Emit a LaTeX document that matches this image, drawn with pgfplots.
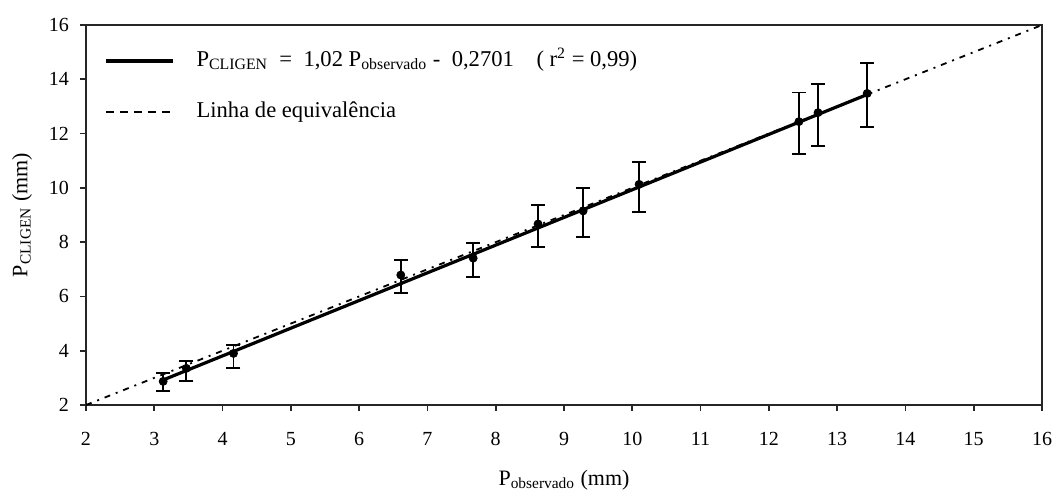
\documentclass[border=0pt]{standalone}
\usepackage{pgfplots}
\pgfplotsset{compat=1.18}
\usepackage{pgfplotstable}
\usepackage{fontspec}
\setmainfont{Liberation Serif}

% observed vs. simulated precipitation, with error bars
\pgfplotstableread{
x      y      ep    em
3.13   2.87   0.30  0.34
3.47   3.35   0.28  0.47
4.16   3.90   0.31  0.53
6.61   6.79   0.55  0.67
7.67   7.41   0.57  0.68
8.62   8.67   0.70  0.84
9.28   9.15   0.85  0.97
10.10  10.13  0.83  1.03
12.44  12.44  1.07  1.19
12.72  12.77  1.07  1.23
13.44  13.48  1.13  1.25
}\obs

\begin{document}
\begin{tikzpicture}
\useasboundingbox (-43pt,-44pt) rectangle (485pt,202.5pt);
\begin{axis}[
  scale only axis,
  width=478pt, height=190pt,
  xmin=2, xmax=16, ymin=2, ymax=16,
  xtick={2,3,...,16}, ytick={2,4,...,16},
  axis line style={line width=0.8pt, black!85},
  tick style={line width=0.8pt, black!85},
  tick align=outside, major tick length=3pt,
  xtick pos=bottom, ytick pos=left,
  /pgf/number format/assume math mode=true,
  ticklabel style={font=\fontsize{10}{12}\selectfont},
  xticklabel style={yshift=-7pt},
  yticklabel style={xshift=-2pt},
  xlabel={P\textsubscript{observado} (mm)},
  ylabel={P\textsubscript{CLIGEN} (mm)},
  label style={font=\fontsize{11}{13}\selectfont},
  xlabel style={at={(axis description cs:0.5,0)}, anchor=center, yshift=-37.5pt},
  ylabel style={at={(axis description cs:0,0.5)}, anchor=center, yshift=32pt},
  legend cell align=left,
  legend style={draw=none, fill=none, at={(axis description cs:0,1)}, anchor=north west,
    xshift=9pt, yshift=-12.5pt, inner sep=0pt, row sep=15pt, column sep=11pt,
    font=\fontsize{11.3}{13}\selectfont,
    nodes={inner sep=0pt, text height=8pt, text depth=2.5pt}},
  legend image code/.code={\draw[#1] (0pt,0pt) -- (33.5pt,0pt);},
]
% line of equivalence (1:1)
\addplot[forget plot, line width=0.9pt, dash pattern=on 3pt off 3pt on 1pt off 3pt]
  coordinates {(2,2) (16,16)};
% fitted regression
\addplot[line width=1.6pt] coordinates {(3.13,2.9225) (13.44,13.4387)};
\addlegendentry{P\textsubscript{CLIGEN}\ \ =\ \ 1,02 P\textsubscript{observado}\ -\ \ 0,2701\quad ( r\textsuperscript{2} = 0,99)}
\addlegendimage{line width=0.8pt, dash pattern=on 4pt off 3pt}
\addlegendentry{Linha de equival\^encia}
% observations with error bars
\addplot[forget plot, only marks, mark=*, mark size=2pt, black,
  error bars/.cd, y dir=both, y explicit,
  error bar style={line width=0.9pt},
  error mark options={rotate=90, mark size=3.5pt, line width=0.9pt}]
  table[x=x, y=y, y error plus=ep, y error minus=em] {\obs};
\end{axis}
\end{tikzpicture}
\end{document}
